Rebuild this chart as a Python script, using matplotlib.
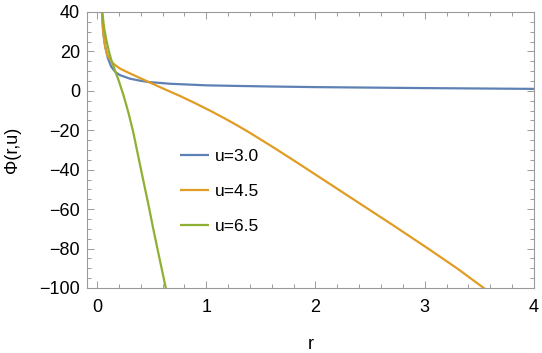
import matplotlib
matplotlib.use("Agg")
import matplotlib.pyplot as plt
from matplotlib.ticker import MultipleLocator

plt.rcParams['font.family'] = ['Liberation Sans', 'DejaVu Sans']

# values
labels = ["u=3.0", "u=4.5", "u=6.5"]
colors = ["#5e81b5", "#e19c24", "#8fb032"]

r_u30 = [0.035, 0.045, 0.055, 0.07, 0.085, 0.10, 0.13, 0.17, 0.21, 0.30, 0.39,
         0.47, 0.67, 1.0, 1.28, 1.6, 2.0, 2.5, 3.0, 3.5, 4.0]
phi_u30 = [50, 40, 31, 24, 20, 16.5, 12.3, 9.4, 8.0, 6.2, 5.2,
           4.5, 3.6, 2.8, 2.5, 2.2, 1.9, 1.65, 1.4, 1.2, 1.0]

r_u45 = [0.035, 0.045, 0.06, 0.08, 0.10, 0.146, 0.18, 0.21, 0.30, 0.39, 0.485,
         0.60, 0.76, 0.90, 1.03, 1.16, 1.28, 1.40, 1.63, 1.86, 2.28, 2.70,
         3.02, 3.30, 3.53, 3.60]
phi_u45 = [50, 40, 28, 21, 17.5, 14, 12.5, 11.3, 8.9, 6.6, 4.2,
           1.3, -2.6, -6.3, -9.9, -13.7, -17.4, -21.3, -29.2, -37.4, -52.6, -67.8,
           -79.6, -90.2, -99.6, -102.5]

r_u65 = [0.035, 0.048, 0.065, 0.085, 0.107, 0.13, 0.165, 0.20, 0.24, 0.285,
         0.33, 0.375, 0.42, 0.47, 0.515, 0.57, 0.63, 0.645]
phi_u65 = [52, 40, 32, 26, 20.5, 15.8, 10.3, 5.0, -1.8, -10.5,
           -20.5, -32.5, -44.5, -57.5, -70, -84.5, -100, -104]

fig = plt.figure(figsize=(5.42, 3.53), dpi=100)
ax = fig.add_axes([87 / 542, 1 - 288 / 353, 447 / 542, 276 / 353])

for r, phi, lab, c in zip([r_u30, r_u45, r_u65], [phi_u30, phi_u45, phi_u65], labels, colors):
    ax.plot(r, phi, color=c, lw=1.6, label=lab, solid_capstyle='butt')

ax.set_xlim(-0.0915, 4)
ax.set_ylim(-100, 40)

ax.xaxis.set_major_locator(MultipleLocator(1))
ax.xaxis.set_minor_locator(MultipleLocator(0.2))
ax.yaxis.set_major_locator(MultipleLocator(20))
ax.yaxis.set_minor_locator(MultipleLocator(5))

for s in ax.spines.values():
    s.set_color("#9a9a9a")
    s.set_linewidth(0.8)
ax.tick_params(which='both', direction='in', top=True, right=True,
               color="#9a9a9a", labelsize=13, width=0.7)
ax.tick_params(which='major', length=5, pad=5)
ax.tick_params(which='minor', length=2.8)
ax.tick_params(axis='x', which='major', pad=8)

ax.set_xlabel("r", fontsize=13, labelpad=14)
ax.set_ylabel("Φ(r,u)", fontsize=13, labelpad=13)

ax.legend(loc='upper left', bbox_to_anchor=(0.208, 0.505), frameon=False,
          fontsize=12.5, borderpad=0, borderaxespad=0, handlelength=1.65,
          handletextpad=0.35, labelspacing=1.15)

fig.savefig("out.png", dpi=100)
